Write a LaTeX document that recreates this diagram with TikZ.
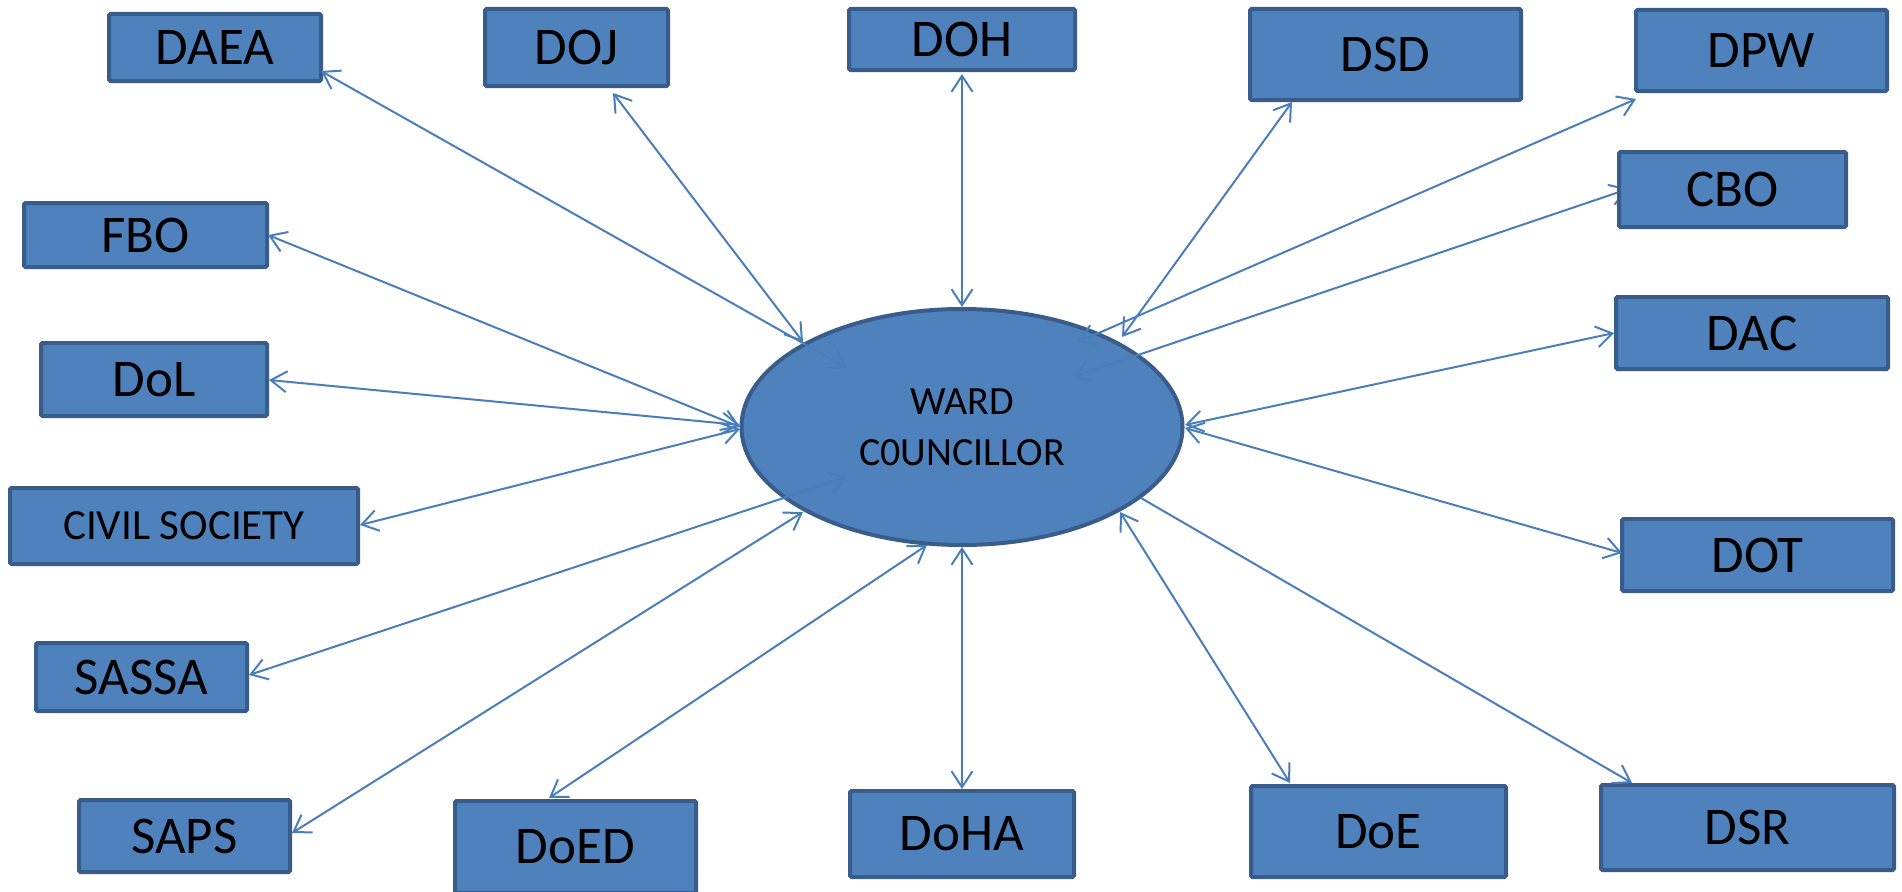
\documentclass[tikz,border=0pt]{standalone}
\usepackage{fontspec}
\setmainfont{Carlito}
\usetikzlibrary{arrows.meta,shapes.geometric}
\definecolor{boxfill}{HTML}{4F81BD}
\definecolor{boxline}{HTML}{385D8A}
\definecolor{conncol}{HTML}{4A7EBB}
\begin{document}
\begin{tikzpicture}[x=1pt,y=-1pt,
  box/.style={draw=boxline, fill=boxfill, line width=4pt, rounded corners=1.5pt,
    inner sep=0pt, font=\fontsize{53}{62}\selectfont, text=black},
  barb/.tip={Straight Barb[length=16pt,width=21pt]},
  conn/.style={draw=conncol, line width=2pt, barb-barb},
  conn1/.style={draw=conncol, line width=2pt, -barb}]
\useasboundingbox (0,0) rectangle (1902,891);
% boxes
\node[box, minimum width=212pt, minimum height=67pt] (daea) at (215,47.5) {DAEA};
\node[box, minimum width=183pt, minimum height=77pt] (doj) at (576.5,47.5) {DOJ};
\node[box, minimum width=226pt, minimum height=61pt] (doh) at (962,39.5) {DOH};
\node[box, minimum width=271pt, minimum height=91pt] (dsd) at (1385.5,54.5) {DSD};
\node[box, minimum width=251pt, minimum height=81pt] (dpw) at (1761.5,50.5) {DPW};
\node[box, minimum width=272pt, minimum height=72pt] (dac) at (1752,333) {DAC};
\node[box, minimum width=271pt, minimum height=72pt] (dot) at (1757.5,555) {DOT};
\node[box, minimum width=293pt, minimum height=85pt] (dsr) at (1747.5,827.5) {DSR};
\node[box, minimum width=255pt, minimum height=91pt] (doe) at (1378.5,831.5) {DoE};
\node[box, minimum width=224pt, minimum height=86pt] (doha) at (962,834) {DoHA};
\node[box, minimum width=241pt, minimum height=92pt] (doed) at (575.5,847) {DoED};
\node[box, minimum width=211pt, minimum height=72pt] (saps) at (184.5,836) {SAPS};
\node[box, minimum width=211pt, minimum height=68pt] (sassa) at (141.5,677) {SASSA};
\node[box, minimum width=348pt, minimum height=76pt, font=\fontsize{43}{50}\selectfont] (civil) at (184,526) {CIVIL SOCIETY};
\node[box, minimum width=226pt, minimum height=73pt] (dol) at (154,379.5) {DoL};
\node[box, minimum width=243pt, minimum height=64pt] (fbo) at (145.5,235) {FBO};
% centre
\node[ellipse, draw=boxline, fill=boxfill, line width=4pt, minimum width=441pt,
  minimum height=236pt, inner sep=0pt, align=center,
  font=\fontsize{40}{51}\selectfont] (ward) at (962,427) {WARD\\C0UNCILLOR};
% connector end points
\coordinate (daeaA) at (321,71);   \coordinate (daeaB) at (847,368);
\coordinate (dojA) at (613,93);    \coordinate (dojB) at (803,342);
\coordinate (dohA) at (962,74);    \coordinate (dohB) at (962,307);
\coordinate (dsdA) at (1292,102);  \coordinate (dsdB) at (1122,337);
\coordinate (dpwA) at (1636,99);   \coordinate (dpwB) at (1078,342);
\coordinate (cboA) at (1628,189);  \coordinate (cboB) at (1073,377);
\coordinate (fboA) at (268,235);   \coordinate (fboB) at (740,427);
\coordinate (dolA) at (269,380);   \coordinate (dolB) at (740,425);
\coordinate (civA) at (360,525);   \coordinate (civB) at (740,429);
\coordinate (sasA) at (249,675);   \coordinate (sasB) at (847,477);
\coordinate (sapA) at (292,833);   \coordinate (sapB) at (803,512);
\coordinate (doedA) at (549,798);  \coordinate (doedB) at (927,545);
\coordinate (dohaA) at (962,789);  \coordinate (dohaB) at (962,547);
\coordinate (doeA) at (1290,783);  \coordinate (doeB) at (1120,512);
\coordinate (dsrA) at (1632,783);  \coordinate (dsrB) at (1141,498);
\coordinate (dacA) at (1614,333);  \coordinate (dacB) at (1185,425);
\coordinate (dotA) at (1622,553);  \coordinate (dotB) at (1185,428);
% connectors
\draw[conn] (cboA) -- (cboB);
\draw[conn] (daeaA) -- (daeaB);
\draw[conn] (dojA) -- (dojB);
\draw[conn] (dohA) -- (dohB);
\draw[conn] (dsdA) -- (dsdB);
\draw[conn] (dpwA) -- (dpwB);
\draw[conn] (fboA) -- (fboB);
\draw[conn] (dolA) -- (dolB);
\draw[conn] (civA) -- (civB);
\draw[conn] (sasA) -- (sasB);
\draw[conn] (sapA) -- (sapB);
\draw[conn] (doedA) -- (doedB);
\draw[conn] (dohaA) -- (dohaB);
\draw[conn] (doeA) -- (doeB);
\draw[conn1] (dsrB) -- (dsrA);
\draw[conn] (dacA) -- (dacB);
\draw[conn] (dotA) -- (dotB);
% CBO box drawn last so that it covers the end of its connector
\node[box, minimum width=227pt, minimum height=75pt] (cbo) at (1732.5,189.5) {CBO};
\end{tikzpicture}
\end{document}
